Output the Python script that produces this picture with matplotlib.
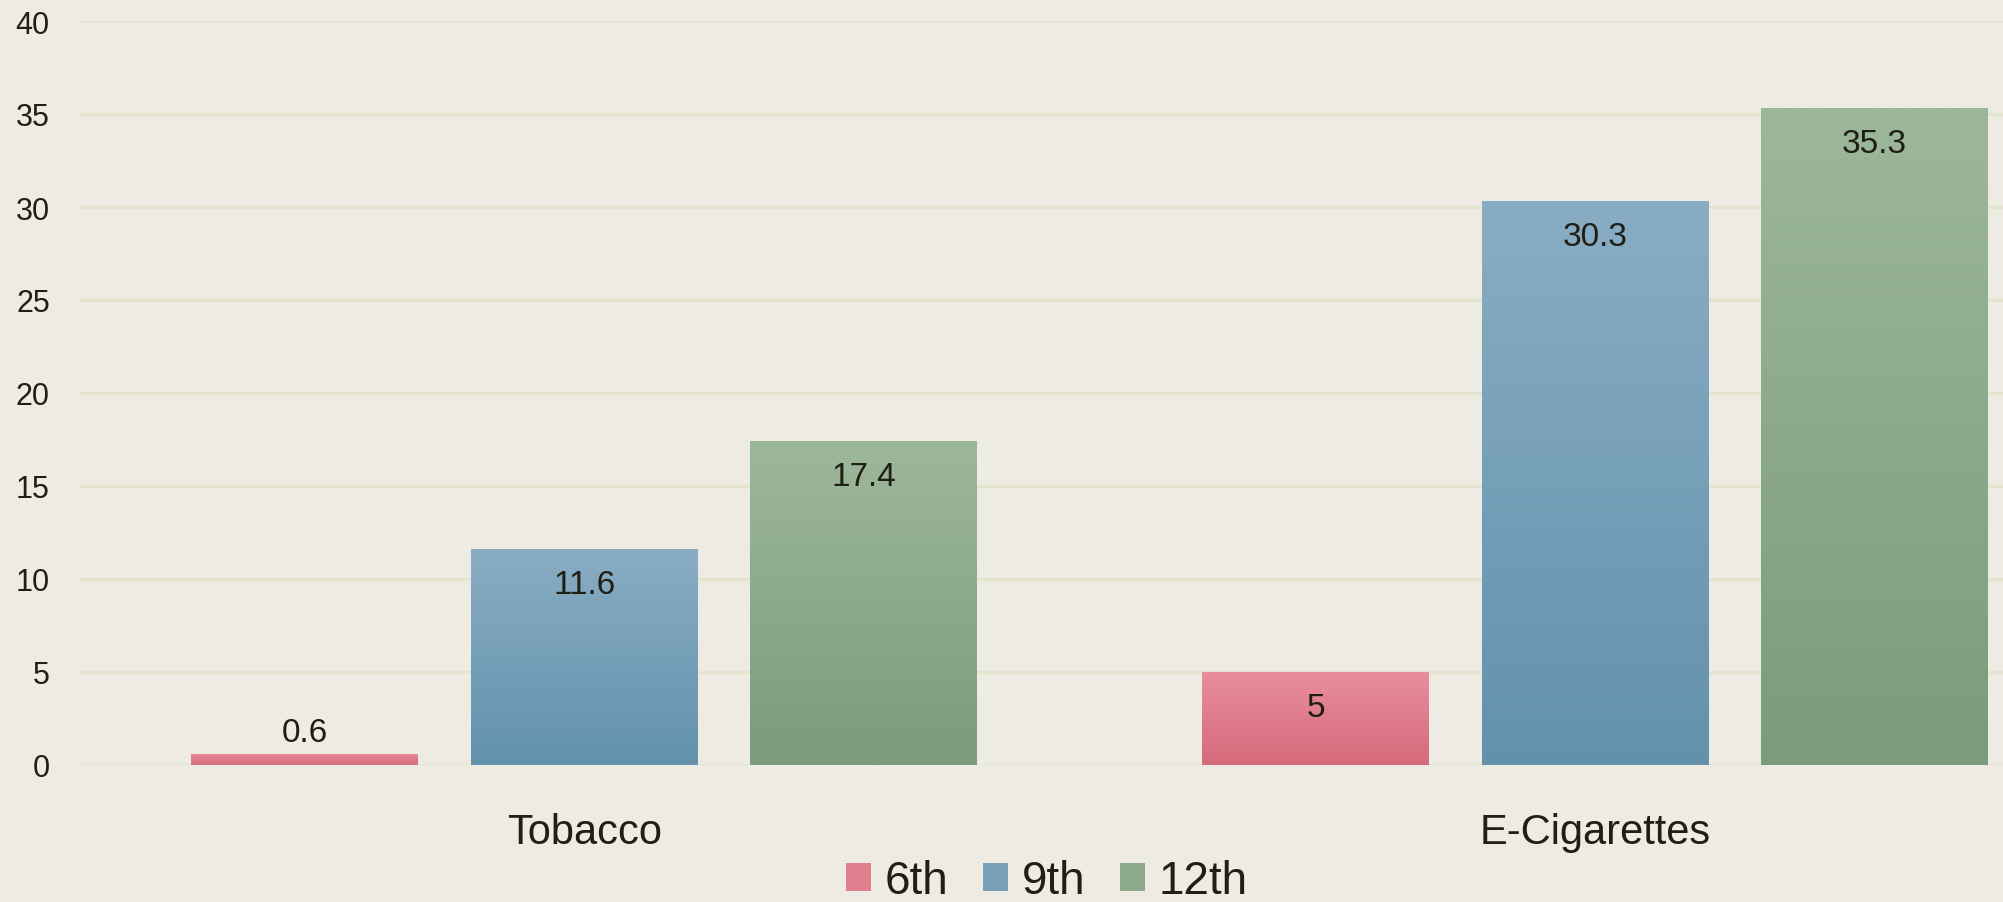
import numpy as np
import matplotlib
matplotlib.use("Agg")
import matplotlib.pyplot as plt
from matplotlib.colors import LinearSegmentedColormap
from matplotlib.patches import Patch

# dados
categorias = ["Tobacco", "E-Cigarettes"]
series = ["6th", "9th", "12th"]
v_6th = [0.6, 5]
v_9th = [11.6, 30.3]
v_12th = [17.4, 35.3]
valores = [v_6th, v_9th, v_12th]
y_ticks = [0, 5, 10, 15, 20, 25, 30, 35, 40]

# cores (topo, base) do gradiente
cores = [("#e88e9d", "#d66a7b"), ("#89adc4", "#6391ac"), ("#9db79a", "#7a9c7a")]
fundo = "#eeebe2"
texto = "#1f1f14"
grade = "#e3e5cf"

plt.rcParams["font.family"] = ["Liberation Sans", "DejaVu Sans"]

fig = plt.figure(figsize=(20.03, 9.03), dpi=100, facecolor=fundo)
ax = fig.add_axes([79 / 2003, 137 / 903, 1 - 79 / 2003, 744 / 903])
ax.set_facecolor(fundo)

largura = 0.2245
deslocamento = 0.2765
x = np.arange(len(categorias))

grad = np.linspace(0, 1, 256).reshape(-1, 1)

for i, (nome, vals) in enumerate(zip(series, valores)):
    pos = x + (i - 1) * deslocamento
    cmap = LinearSegmentedColormap.from_list(nome, [cores[i][1], cores[i][0]])
    barras = ax.bar(pos, vals, width=largura, color="none", edgecolor="none", zorder=3)
    for b, v in zip(barras, vals):
        x0 = b.get_x()
        im = ax.imshow(grad, extent=(x0, x0 + largura, 0, v), origin="lower",
                       aspect="auto", cmap=cmap, zorder=3)
        im.set_clip_path(b)
        cx = x0 + largura / 2
        # rótulo fora da barra quando ela é muito baixa
        if v < 2:
            ax.annotate(f"{v:g}", (cx, v), xytext=(0, 6), textcoords="offset pixels",
                        ha="center", va="bottom", fontsize=24, color=texto, zorder=4)
        else:
            ax.annotate(f"{v:g}", (cx, v), xytext=(0, -20), textcoords="offset pixels",
                        ha="center", va="top", fontsize=24, color=texto, zorder=4)

ax.set_xlim(-0.5, 1.4036)
ax.set_ylim(0, 40)
ax.set_yticks(y_ticks)
ax.set_xticks(x)
ax.set_xticklabels(categorias)
ax.yaxis.grid(True, color=grade, linewidth=2, zorder=0)
ax.set_axisbelow(True)
for s in ax.spines.values():
    s.set_visible(False)
ax.tick_params(axis="y", length=0, pad=21, labelsize=22, labelcolor=texto)
ax.tick_params(axis="x", length=0, pad=34, labelsize=30, labelcolor=texto)

# legenda (cor média do gradiente)
meio = [LinearSegmentedColormap.from_list("m", [c[1], c[0]])(0.55) for c in cores]
handles = [Patch(facecolor=m, edgecolor="none") for m in meio]
fig.legend(handles, series, loc="center", bbox_to_anchor=(1047 / 2003, 1 - 882 / 903),
           ncol=3, frameon=False, fontsize=33, handlelength=0.55, handleheight=0.55,
           handletextpad=0.3, columnspacing=0.75, labelcolor=texto)

fig.savefig("out.png", dpi=100, facecolor=fundo)
